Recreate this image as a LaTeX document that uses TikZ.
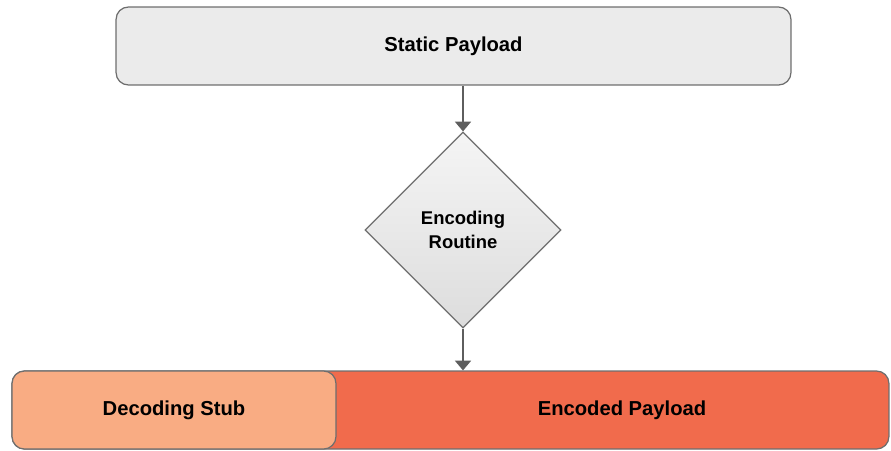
\documentclass[tikz,border=0pt]{standalone}
\usepackage{fontspec}
\setmainfont{Liberation Sans}
\usetikzlibrary{arrows.meta, positioning, shapes.geometric}
\definecolor{boxgray}{HTML}{EBEBEB}
\definecolor{linegray}{HTML}{6E6E6E}
\definecolor{arrowgray}{HTML}{5E5E5E}
\definecolor{stubcol}{HTML}{F9AC83}
\definecolor{payloadcol}{HTML}{F16B4C}

\begin{document}
\begin{tikzpicture}[x=0.02cm, y=-0.02cm,
  every node/.style={font=\fontsize{11.5}{13.8}\selectfont\bfseries},
  block/.style={draw=linegray, line width=0.7pt, rounded corners=7pt, minimum height=1.56cm, inner sep=0pt},
  decision/.style={diamond, draw=linegray, line width=0.7pt, top color=gray!8, bottom color=gray!27,
    minimum width=3.92cm, minimum height=3.92cm, inner sep=0pt, align=center,
    font=\fontsize{10.5}{13.6}\selectfont\bfseries},
  flow/.style={draw=arrowgray, line width=1.1pt, -{Triangle[width=9pt, length=5.5pt]}}]
\useasboundingbox (0,0) rectangle (891,450);
\node[block, fill=boxgray, minimum width=13.5cm] (static) at (453.5,46) {Static Payload};
\node[decision] (routine) at (463,230) {Encoding\\Routine};
% encoded payload body, stub sits on top of its left end
\node[block, fill=payloadcol, minimum width=17.54cm] (encoded) at (450.5,410) {};
\node[block, fill=stubcol, minimum width=6.48cm] (stub) at (174,410) {Decoding Stub};
\node (encodedtext) at (622,410) {Encoded Payload};
\draw[flow] (routine.north |- static.south) -- (routine.north);
\draw[flow] (routine.south) -- (routine.south |- encoded.north);
\end{tikzpicture}
\end{document}
